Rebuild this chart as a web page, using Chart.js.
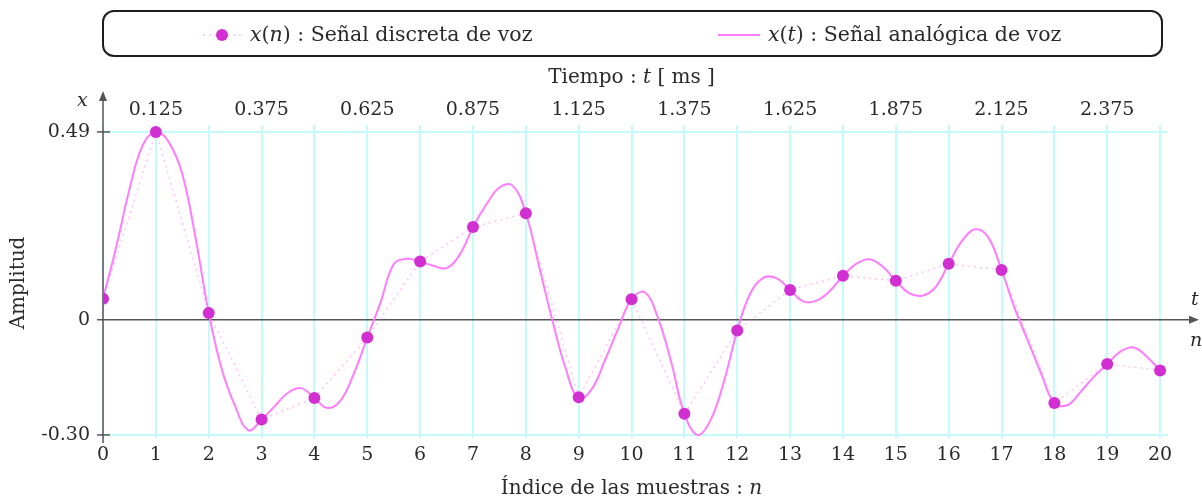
<!DOCTYPE html>
<html>
<head>
<meta charset="utf-8">
<script src="https://cdn.jsdelivr.net/npm/chart.js@4/dist/chart.umd.min.js"></script>
<style>
  html, body { margin: 0; padding: 0; background: #fff; }
  #wrap { position: relative; width: 1202px; height: 502px; }
  canvas { display: block; }
</style>
</head>
<body>
<div id="wrap"><canvas id="c" width="1202" height="502"></canvas></div>
<script>
// Discrete voice signal x(n), one value per sample index n
const sampleIndex = [0, 1, 2, 3, 4, 5, 6, 7, 8, 9, 10, 11, 12, 13, 14, 15, 16, 17, 18, 19, 20];
const discreteValues = [0.055, 0.49, 0.018, -0.26, -0.204, -0.046, 0.152, 0.242, 0.278, -0.202, 0.054,
                        -0.245, -0.028, 0.078, 0.115, 0.102, 0.146, 0.130, -0.217, -0.115, -0.132];

// Analog voice signal x(t), read every quarter sample (time in sample units)
const analogTime = [
  0, 0.25, 0.5, 0.75, 1, 1.25, 1.5, 1.75, 2, 2.25, 2.5, 2.75, 3, 3.25, 3.5, 3.75,
  4, 4.25, 4.5, 4.75, 5, 5.25, 5.5, 5.75, 6, 6.25, 6.5, 6.75, 7, 7.25, 7.5, 7.75,
  8, 8.25, 8.5, 8.75, 9, 9.25, 9.5, 9.75, 10, 10.25, 10.5, 10.75, 11, 11.25, 11.5, 11.75,
  12, 12.25, 12.5, 12.75, 13, 13.25, 13.5, 13.75, 14, 14.25, 14.5, 14.75, 15, 15.25, 15.5, 15.75,
  16, 16.25, 16.5, 16.75, 17, 17.25, 17.5, 17.75, 18, 18.25, 18.5, 18.75, 19, 19.25, 19.5, 19.75, 20];
const analogValues = [
  0.055, 0.19, 0.34, 0.455, 0.49, 0.462, 0.38, 0.215, 0.018, -0.13, -0.225, -0.288, -0.26, -0.225, -0.19, -0.178,
  -0.204, -0.23, -0.209, -0.139, -0.046, 0.045, 0.145, 0.159, 0.152, 0.141, 0.135, 0.17, 0.242, 0.30, 0.345, 0.35,
  0.278, 0.14, 0.0, -0.125, -0.205, -0.18, -0.104, -0.022, 0.054, 0.072, 0.005, -0.11, -0.245, -0.30, -0.26, -0.16,
  -0.028, 0.07, 0.11, 0.108, 0.078, 0.048, 0.05, 0.075, 0.115, 0.146, 0.158, 0.139, 0.102, 0.07, 0.063, 0.085,
  0.146, 0.205, 0.236, 0.215, 0.130, 0.03, -0.055, -0.14, -0.217, -0.222, -0.187, -0.148, -0.115, -0.083, -0.072, -0.096, -0.132];

// Axis ticks
const amplitudeTicks = [-0.30, 0, 0.49];
const timeTickSamples = [1, 3, 5, 7, 9, 11, 13, 15, 17, 19];
const msPerSample = 0.125;

const FONT = '"DejaVu Serif", "Liberation Serif", serif';
const TEXT = '#2a2a2a';
const AXIS = '#555555';
const GRID = '#c4fafa';
const CURVE = '#ff7cff';
const DOT = '#d22fd2';
const DOTTED = 'rgba(255,140,255,0.55)';

function richText(ctx, parts, x, y, size, align) {
  let total = 0;
  const widths = parts.map(p => {
    ctx.font = (p.i ? 'italic ' : '') + size + 'px ' + FONT;
    const w = ctx.measureText(p.t).width;
    total += w;
    return w;
  });
  let cx = align === 'center' ? x - total / 2 : x;
  ctx.textAlign = 'left';
  ctx.textBaseline = 'middle';
  parts.forEach((p, k) => {
    ctx.font = (p.i ? 'italic ' : '') + size + 'px ' + FONT;
    ctx.fillText(p.t, cx, y);
    cx += widths[k];
  });
}

// Axes with arrows, axis labels and the framed legend
const decorations = {
  id: 'decorations',
  beforeDatasetsDraw(chart) {
    const { ctx, chartArea, scales } = chart;
    const x0 = scales.x.getPixelForValue(0);
    const y0 = scales.y.getPixelForValue(0);
    ctx.save();
    ctx.strokeStyle = AXIS;
    ctx.fillStyle = AXIS;
    ctx.lineWidth = 1.5;
    // vertical amplitude axis
    ctx.beginPath();
    ctx.moveTo(x0, chartArea.bottom + 5);
    ctx.lineTo(x0, 98);
    ctx.stroke();
    ctx.beginPath();
    ctx.moveTo(x0, 91); ctx.lineTo(x0 - 4, 101); ctx.lineTo(x0 + 4, 101); ctx.closePath();
    ctx.fill();
    // horizontal sample axis
    ctx.beginPath();
    ctx.moveTo(x0 - 6, y0);
    ctx.lineTo(1192, y0);
    ctx.stroke();
    ctx.beginPath();
    ctx.moveTo(1199, y0); ctx.lineTo(1189, y0 - 4); ctx.lineTo(1189, y0 + 4); ctx.closePath();
    ctx.fill();
    // tick marks on the amplitude axis
    amplitudeTicks.forEach(v => {
      if (v === 0) return;
      const py = scales.y.getPixelForValue(v);
      ctx.beginPath();
      ctx.moveTo(x0 - 6, py); ctx.lineTo(x0 + 7, py);
      ctx.stroke();
    });
    ctx.restore();
  },
  afterDraw(chart) {
    const { ctx, scales } = chart;
    const x0 = scales.x.getPixelForValue(0);
    const xMid = (scales.x.getPixelForValue(0) + scales.x.getPixelForValue(20)) / 2;
    ctx.save();
    ctx.fillStyle = TEXT;
    // axis variable names
    richText(ctx, [{ t: 'x', i: true }], x0 - 26, 101, 19, 'left');
    richText(ctx, [{ t: 't', i: true }], 1191, 300, 19, 'left');
    richText(ctx, [{ t: 'n', i: true }], 1190, 341, 19, 'left');
    // axis titles
    richText(ctx, [{ t: 'Tiempo : ' }, { t: 't', i: true }, { t: ' [ ms ]' }], xMid, 78, 20, 'center');
    richText(ctx, [{ t: 'Índice de las muestras : ' }, { t: 'n', i: true }], xMid, 489, 20, 'center');
    ctx.save();
    ctx.translate(19, 283);
    ctx.rotate(-Math.PI / 2);
    richText(ctx, [{ t: 'Amplitud' }], 0, 0, 20, 'center');
    ctx.restore();

    // legend frame
    const L = 103, T = 11, R = 1162, B = 56, r = 11;
    ctx.strokeStyle = '#1e1e1e';
    ctx.lineWidth = 2;
    ctx.beginPath();
    ctx.roundRect(L, T, R - L, B - T, r);
    ctx.stroke();
    const ly = 35;
    // discrete series entry: dotted trace with a dot
    ctx.strokeStyle = DOTTED;
    ctx.lineWidth = 1.5;
    ctx.setLineDash([2, 4]);
    ctx.beginPath(); ctx.moveTo(203, ly); ctx.lineTo(241, ly); ctx.stroke();
    ctx.setLineDash([]);
    ctx.fillStyle = DOT;
    ctx.beginPath(); ctx.arc(222, ly, 6, 0, Math.PI * 2); ctx.fill();
    ctx.fillStyle = TEXT;
    richText(ctx, [{ t: 'x', i: true }, { t: '(' }, { t: 'n', i: true }, { t: ')' }, { t: ' : Señal discreta de voz' }], 250, ly + 1, 20.5, 'left');
    // analog series entry: solid trace
    ctx.strokeStyle = CURVE;
    ctx.lineWidth = 2;
    ctx.beginPath(); ctx.moveTo(718, ly); ctx.lineTo(760, ly); ctx.stroke();
    richText(ctx, [{ t: 'x', i: true }, { t: '(' }, { t: 't', i: true }, { t: ')' }, { t: ' : Señal analógica de voz' }], 768, ly + 1, 20.5, 'left');
    ctx.restore();
  }
};

const tickFont = { family: FONT, size: 19 };

new Chart(document.getElementById('c'), {
  type: 'line',
  data: {
    datasets: [
      {
        label: 'x(n) : Señal discreta de voz',
        data: sampleIndex.map((n, k) => ({ x: n, y: discreteValues[k] })),
        borderColor: DOTTED,
        borderWidth: 1.5,
        borderDash: [2, 4],
        tension: 0,
        pointRadius: 6,
        pointBackgroundColor: DOT,
        pointBorderWidth: 0
      },
      {
        label: 'x(t) : Señal analógica de voz',
        data: analogTime.map((t, k) => ({ x: t, y: analogValues[k] })),
        borderColor: CURVE,
        borderWidth: 2,
        pointRadius: 0,
        tension: 0.4
      }
    ]
  },
  options: {
    responsive: false,
    animation: false,
    layout: { padding: { top: 62, right: 34, left: 0, bottom: 0 } },
    plugins: { legend: { display: false }, tooltip: { enabled: false } },
    scales: {
      x: {
        type: 'linear', position: 'bottom', min: 0, max: 20.15,
        afterBuildTicks: s => { s.ticks = sampleIndex.map(v => ({ value: v })); },
        afterFit: s => { s.height = 64; },
        ticks: { font: tickFont, color: TEXT, padding: 6, maxRotation: 0, autoSkip: false, callback: v => String(v) },
        grid: { color: GRID, lineWidth: 2, drawTicks: false },
        border: { display: false }
      },
      xTop: {
        type: 'linear', position: 'top', min: 0, max: 20.15,
        afterBuildTicks: s => { s.ticks = timeTickSamples.map(v => ({ value: v })); },
        afterFit: s => { s.height = 63; },
        ticks: { font: tickFont, color: TEXT, padding: 4, maxRotation: 0, autoSkip: false,
                 callback: v => (v * msPerSample).toFixed(3) },
        grid: { display: false, drawTicks: false },
        border: { display: false }
      },
      y: {
        type: 'linear', min: -0.308, max: 0.508,
        afterBuildTicks: s => { s.ticks = amplitudeTicks.map(v => ({ value: v })); },
        afterFit: s => { s.width = 103; },
        ticks: { font: tickFont, color: TEXT, padding: 13,
                 callback: v => (v === 0 ? '0' : v.toFixed(2)) },
        grid: { color: c => (c.tick && c.tick.value === 0 ? 'rgba(0,0,0,0)' : GRID), lineWidth: 2, drawTicks: false },
        border: { display: false }
      }
    }
  },
  plugins: [decorations]
});
</script>
</body>
</html>
